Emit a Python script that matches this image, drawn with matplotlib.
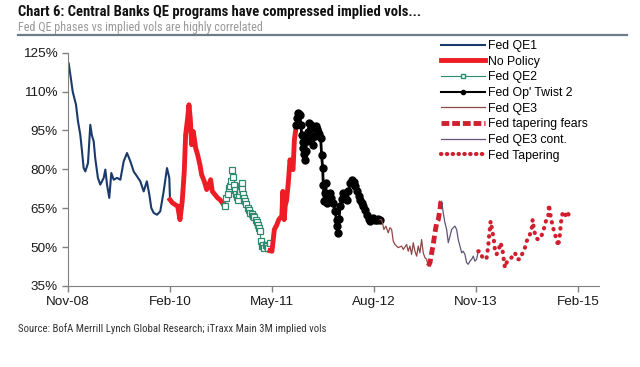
import matplotlib
matplotlib.use("Agg")
import matplotlib.pyplot as plt
from matplotlib import font_manager
from matplotlib.lines import Line2D

# x = months since Nov-08, y = iTraxx Main 3M implied vol (%)
qe1_m = [0.1, 0.35, 0.69, 1.18, 1.47, 1.81, 2.06, 2.3, 2.55, 2.94, 3.28, 3.5, 3.78, 4.0,
         4.4, 4.75, 5.25, 5.49, 5.74, 6.07, 6.37, 6.72, 7.2, 7.7, 8.19, 8.68, 9.17, 9.66,
         10.15, 10.63, 11.13, 11.6, 11.96, 12.25, 12.6, 13.1, 13.57, 14.07, 14.56, 14.9, 15.0]
qe1_v = [120.9, 116.4, 110, 104.9, 98.5, 93.3, 87, 80.5, 79.2, 82.4, 97.2, 93.3, 90.8, 84.4,
         76.7, 74.1, 76.7, 79.9, 74.1, 69, 78.6, 76, 76.7, 76, 83.1, 86.3, 83.1, 79.2,
         77.3, 75.4, 71.5, 75.4, 70.3, 65.1, 63.2, 62.5, 63.8, 71.5, 80.5, 76.7, 68.3]

nopol1_m = [15.0, 15.35, 15.74, 16.13, 16.47, 16.8, 17.1, 17.3, 17.6, 17.79, 17.98, 18.19,
            18.43, 18.78, 19.07, 19.4, 19.66, 20.04, 20.4, 20.74, 20.98, 21.22, 21.6, 22.0,
            22.35, 22.7, 22.99]
nopol1_v = [68.3, 67.1, 66.4, 65.8, 60.6, 67.7, 79.2, 93.3, 99.8, 104.9, 99.8, 89.5,
            94.6, 88.2, 85.6, 81.8, 77.9, 75.4, 72.2, 74.1, 76.0, 71.5, 70.3, 69,
            68.3, 67.1, 65.8]

qe2_m = [23.1, 23.3, 23.5, 23.68, 23.85, 23.97, 24.16, 24.27, 24.37, 24.5, 24.66, 24.8,
         24.96, 25.1, 25.25, 25.4, 25.54, 25.66, 25.78, 25.9, 26.03, 26.2, 26.42, 26.6,
         26.81, 27.0, 27.2, 27.4, 27.6, 27.8, 27.99, 28.1, 28.24, 28.38, 28.55, 28.72,
         28.9, 29.05, 29.22, 29.45, 29.7]
qe2_v = [65.8, 69, 70.5, 72.8, 73.5, 75.4, 79.9, 77.0, 74.1, 72.0, 70.3, 69.5,
         68.3, 70.0, 71.5, 73.5, 74.8, 72.5, 70.3, 68.8, 67.7, 66.5, 65.1, 64.2,
         63.2, 62.6, 61.9, 61.5, 60.6, 59.8, 58.7, 57.5, 56.1, 52.3, 50.5, 51,
         49.5, 50.8, 50.4, 49.8, 51.7]

nopol2_m = [29.7, 30.0, 30.35, 30.7, 31.0, 31.45, 31.6, 31.8, 31.95, 32.15, 32.4, 32.65,
            32.9, 33.1, 33.3, 33.6]
nopol2_v = [48.6, 48.4, 56.8, 58.5, 60.6, 62.0, 71.5, 60.6, 66.0, 68.0, 74.8, 83.7,
            81.0, 79.9, 91.5, 97.2]

twist_m = [33.6, 33.75, 33.87, 34.0, 34.1, 34.25, 34.37, 34.5, 34.6, 34.72, 34.85, 34.98,
           35.1, 35.3, 35.5, 35.67, 35.84, 35.96, 36.08, 36.3, 36.5, 36.65, 36.8, 36.98,
           37.16, 37.3, 37.45, 37.55, 37.69, 37.8, 37.92, 38.04, 38.25, 38.5, 38.75, 39.0,
           39.25, 39.5, 39.62, 39.75, 39.88, 40.0, 40.25, 40.5, 40.75, 41.0, 41.25, 41.5,
           41.76, 42.0, 42.25, 42.5, 42.74, 43.0, 43.25, 43.45, 43.7, 44.0, 44.2, 44.4,
           44.65, 44.9, 45.15, 45.4, 45.65, 45.9]
twist_v = [97.2, 100.0, 101.7, 101.3, 101, 97.0, 93.3, 90.5, 88.2, 86.0, 83.7, 87.0,
           90.8, 94.5, 97.8, 97.0, 95.9, 92.5, 89.5, 93.0, 96.6, 95.5, 94.6, 93.5,
           92.1, 85.6, 80.5, 74.1, 67.7, 71.0, 74.8, 67.1, 69.0, 70.9, 69.0, 67.1,
           64.0, 60.6, 58.0, 55.5, 61.0, 65.8, 68.5, 70.9, 69.5, 68.3, 71.5, 74.8,
           76, 75.0, 73.4, 71.5, 69.6, 68.3, 67.1, 65.8, 64.5, 62.5, 61.0, 60,
           60.8, 61.3, 60.5, 60.6, 61.0, 60.6]

qe3_m = [45.9, 46.13, 46.47, 46.76, 47.1, 47.35, 47.6, 47.84, 48.09, 48.57, 49.07, 49.31,
         49.81, 50.04, 50.29, 50.54, 50.78, 51.03, 51.28, 51.51, 51.76, 52.01, 52.25, 52.5,
         52.75, 52.99]
qe3_v = [60.6, 60.6, 56.8, 58.1, 55.5, 57.5, 56.8, 52.3, 51, 49.8, 50.4, 49.1,
         51, 48.4, 50.4, 47.2, 51.7, 48.4, 46.5, 50.4, 47.8, 52.9, 47.8, 45.9,
         45.3, 42.7]

fears_m = [52.99, 53.24, 53.49, 53.72, 53.97, 54.22, 54.46, 54.71, 54.81, 54.96]
fears_v = [42.7, 44, 47.8, 51, 55.5, 59.4, 60.6, 64.5, 67.1, 67.7]

qe3c_m = [54.96, 55.19, 55.44, 55.69, 55.93, 56.18, 56.43, 56.66, 56.91, 57.16, 57.4, 57.65,
          57.9, 58.13, 58.38, 58.63, 58.87, 59.12, 59.37, 59.6, 59.85, 60.1, 60.34]
qe3c_v = [67.7, 63.2, 59.4, 56.8, 51.7, 54.2, 56.8, 57.5, 58.1, 56.8, 52.9, 50.4,
          47.8, 48.4, 47.2, 44, 43.4, 44.6, 45.3, 46.5, 44.6, 45.3, 48.4]

taper_m = [60.34, 60.59, 61.07, 61.57, 61.81, 61.96, 62.16, 62.46, 62.65, 62.79, 63.04, 63.43,
           63.63, 63.93, 64.12, 64.26, 64.6, 65.0, 65.4, 65.74, 66.07, 66.47, 66.87, 67.21,
           67.46, 67.84, 68.19, 68.34, 68.53, 68.82, 69.16, 69.51, 69.81, 70.04, 70.29, 70.63,
           70.74, 70.99, 71.28, 71.62, 71.87, 72.1, 72.35, 72.5, 72.75, 73.09, 73.43, 73.72]
taper_v = [48.4, 48.4, 45.3, 45.9, 50.4, 54.9, 60.0, 55.5, 52.3, 49.1, 47.2, 49.8,
           51.7, 48.4, 44.6, 42.1, 44.6, 45.3, 46.5, 47.8, 45.3, 45.3, 47.8, 49.8,
           52.3, 54.2, 56.8, 60.6, 56.8, 53.6, 52.9, 53.6, 55.5, 57.5, 60, 61.3,
           66.4, 61.9, 58.1, 54.9, 52.9, 50.4, 54.9, 59.4, 63.2, 61.9, 63.8, 61.9]

tick_pos = [0, 15, 30, 45, 60, 75]
tick_labels = ["Nov-08", "Feb-10", "May-11", "Aug-12", "Nov-13", "Feb-15"]
y_ticks = [35, 50, 65, 80, 95, 110, 125]

NAVY = "#1b3a6b"
RED = "#ee1c25"
CRIMSON = "#d01f2e"
TEAL = "#2c8a6e"
BROWN = "#8e4848"
PURPLE = "#615478"


def narrow_font(bold):
    # header/footer use a condensed face; take whichever one is installed
    wanted = "bold" if bold else "normal"
    best = None
    for f in font_manager.fontManager.ttflist:
        name = f.name.lower()
        narrow = ("narrow" in name or "condensed" in name
                  or f.stretch in ("condensed", "semi-condensed", 500 - 200))
        if not narrow or "italic" in f.style or "oblique" in f.style:
            continue
        is_bold = f.weight in ("bold", 700) or (isinstance(f.weight, int) and f.weight >= 600)
        if is_bold != bold:
            continue
        rank = 0 if "liberation" in name else 1 if "roboto" in name else 2 if "open" in name else 3
        if best is None or rank < best[0]:
            best = (rank, f.fname)
    if best:
        return font_manager.FontProperties(fname=best[1])
    return font_manager.FontProperties(family="Liberation Sans", weight=wanted)


plt.rcParams["font.family"] = ["Liberation Sans", "DejaVu Sans"]

fig = plt.figure(figsize=(6.4, 3.67), dpi=100)
ax = fig.add_axes([68 / 640, 1 - 286 / 367, (599 - 68) / 640, (286 - 52.7) / 367])

ax.plot(qe1_m, qe1_v, color=NAVY, lw=1.5)
ax.plot(nopol1_m, nopol1_v, color=RED, lw=3.5, solid_joinstyle="round")
ax.plot(qe2_m, qe2_v, color=TEAL, lw=0.8, marker="s", ms=4, mfc="white", mec=TEAL, mew=0.9)
ax.plot(nopol2_m, nopol2_v, color=RED, lw=3.5, solid_joinstyle="round")
ax.plot(twist_m, twist_v, color="black", lw=2, marker="o", ms=5)
ax.plot(qe3_m, qe3_v, color=BROWN, lw=0.9)
ax.plot(fears_m, fears_v, color=CRIMSON, lw=3.5, linestyle=(0, (1.6, 0.8)))
ax.plot(qe3c_m, qe3c_v, color=PURPLE, lw=0.9)
ax.plot(taper_m, taper_v, color=CRIMSON, lw=3, linestyle=(0, (0.1, 1.6)), dash_capstyle="round")

ax.set_xlim(0, 78.1)
ax.set_ylim(35, 125)
ax.set_xticks(tick_pos)
ax.set_xticklabels(tick_labels)
ax.set_yticks(y_ticks)
ax.set_yticklabels([f"{t}%" for t in y_ticks])
for side in ("top", "right"):
    ax.spines[side].set_visible(False)
for side in ("left", "bottom"):
    ax.spines[side].set_color("#808080")
ax.tick_params(colors="#808080", labelcolor="#1a1a1a", labelsize=9.7, length=4, width=1)

handles = [
    Line2D([], [], color=NAVY, lw=1.5),
    Line2D([], [], color=RED, lw=3.5),
    Line2D([], [], color=TEAL, lw=0.8, marker="s", ms=3.5, mfc="white", mec=TEAL),
    Line2D([], [], color="black", lw=1.5, marker="o", ms=3),
    Line2D([], [], color=BROWN, lw=0.9),
    Line2D([], [], color=CRIMSON, lw=3.5, linestyle=(0, (1.6, 0.6))),
    Line2D([], [], color=PURPLE, lw=0.9),
    Line2D([], [], color=CRIMSON, lw=3, linestyle=(0, (0.1, 1.3)), dash_capstyle="round"),
]
labels = ["Fed QE1", "No Policy", "Fed QE2", "Fed Op' Twist 2", "Fed QE3",
          "Fed tapering fears", "Fed QE3 cont.", "Fed Tapering"]
fig.legend(handles, labels, loc="upper left", bbox_to_anchor=(441 / 640, 1 - 40 / 367),
           frameon=False, fontsize=8.8, handlelength=3.6, handletextpad=0.25,
           labelspacing=0.3, borderaxespad=0, borderpad=0)

title_font = narrow_font(True)
body_font = narrow_font(False)

fig.text(18 / 640, 1 - 16 / 367, "Chart 6: Central Banks QE programs have compressed implied vols...",
         fontproperties=title_font, fontsize=10.5, color="#111111", va="baseline")
fig.text(18 / 640, 1 - 30.5 / 367, "Fed QE phases vs implied vols are highly correlated",
         fontproperties=body_font, fontsize=8.75, color="#999999", va="baseline")
fig.add_artist(Line2D([18 / 640, 627 / 640], [1 - 34.5 / 367, 1 - 34.5 / 367],
                      color="#6f7c8a", lw=1.6))
fig.text(18 / 640, 1 - 329 / 367, "Source: BofA Merrill Lynch Global Research; iTraxx Main 3M implied vols",
         fontproperties=body_font, fontsize=7.75, color="#333333", va="center")

fig.savefig("out.png", dpi=100)
